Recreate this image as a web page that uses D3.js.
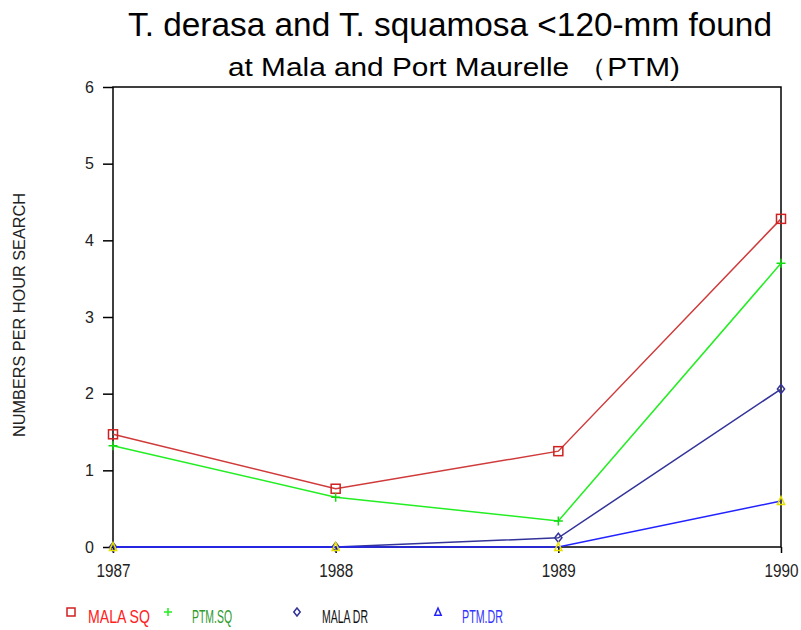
<!DOCTYPE html>
<html>
<head>
<meta charset="utf-8">
<title>T. derasa and T. squamosa</title>
<style>
  body { margin: 0; background: #fff; }
  text { font-family: "Liberation Sans", Arial, sans-serif; }
</style>
</head>
<body>
<script src="https://d3js.org/d3.v7.min.js"></script>
<script>
const years = [1987, 1988, 1989, 1990];
const yTicks = [0, 1, 2, 3, 4, 5, 6];
const malaSq = [1.47, 0.76, 1.25, 4.28];
const ptmSq = [1.32, 0.65, 0.34, 3.70];
const malaDr = [0, 0, 0.12, 2.06];
const ptmDr = [0, 0, 0, 0.60];
const seriesNames = ['MALA SQ', 'PTM.SQ', 'MALA DR', 'PTM.DR'];

const W = 801, H = 630;
const M = {left: 113, right: 20, top: 87, bottom: 83};

const svg = d3.select('body').append('svg')
    .attr('width', W)
    .attr('height', H);

const x = d3.scaleLinear().domain([1987, 1990]).range([M.left, W - M.right]);
const y = d3.scaleLinear().domain([0, 6]).range([H - M.bottom, M.top]);

// squeeze / stretch text to the width seen in the picture
const fit = (sel, w) => sel.attr('textLength', w).attr('lengthAdjust', 'spacingAndGlyphs');

// titles
svg.append('text')
    .attr('x', 128).attr('y', 36)
    .style('font-size', '33px')
    .text('T. derasa and T. squamosa <120-mm found')
    .call(fit, 644);
svg.append('text')
    .attr('x', 228).attr('y', 76)
    .style('font-size', '25px')
    .text('at Mala and Port Maurelle （PTM)')
    .call(fit, 452);

// frame
svg.append('rect')
    .attr('x', x(1987)).attr('y', y(6))
    .attr('width', x(1990) - x(1987))
    .attr('height', y(0) - y(6))
    .attr('fill', 'none')
    .attr('stroke', '#000')
    .attr('stroke-width', 1.5);

// axes
const yAxis = svg.append('g')
    .attr('transform', `translate(${x(1987)},0)`)
    .call(d3.axisLeft(y).tickValues(yTicks).tickSize(10).tickPadding(9).tickFormat(d3.format('d')));
const xAxis = svg.append('g')
    .attr('transform', `translate(0,${y(0)})`)
    .call(d3.axisBottom(x).tickValues(years).tickSize(6).tickPadding(11).tickFormat(d3.format('d')));
[yAxis, xAxis].forEach(a => {
    a.select('.domain').remove();
    a.selectAll('line').attr('stroke', '#000').attr('stroke-width', 1.5);
    a.selectAll('text')
        .style('font-family', '"Liberation Sans", Arial, sans-serif')
        .attr('fill', '#222');
});
yAxis.selectAll('text').style('font-size', '16px');
xAxis.selectAll('text').style('font-size', '18px').call(fit, 34);

svg.append('text')
    .attr('transform', `translate(25,${315}) rotate(-90)`)
    .attr('text-anchor', 'middle')
    .style('font-size', '16px')
    .attr('fill', '#222')
    .text('NUMBERS PER HOUR SEARCH')
    .call(fit, 244);

const series = [
    {name: seriesNames[0], values: malaSq, line: '#d03a3a', mark: '#d02020', text: '#ff2020', shape: 'square'},
    {name: seriesNames[1], values: ptmSq, line: '#22ee22', mark: '#11dd11', text: '#2d9a2d', shape: 'plus'},
    {name: seriesNames[2], values: malaDr, line: '#33339a', mark: '#33339a', text: '#111', shape: 'diamond'},
    {name: seriesNames[3], values: ptmDr, line: '#2222ff', mark: '#e8e000', text: '#3333ff', shape: 'triangle'}
];

const line = d3.line().x((d, i) => x(years[i])).y(d => y(d));

function marker(g, shape, color, size) {
    const s = size;
    if (shape === 'square') {
        g.append('rect').attr('x', -s).attr('y', -s).attr('width', 2 * s).attr('height', 2 * s)
            .attr('fill', 'none').attr('stroke', color).attr('stroke-width', 1.5);
    } else if (shape === 'plus') {
        g.append('path').attr('d', `M${-s},0H${s}M0,${-s}V${s}`)
            .attr('stroke', color).attr('stroke-width', 1.5);
    } else if (shape === 'diamond') {
        g.append('path').attr('d', `M0,${-s}L${s * 0.8},0L0,${s}L${-s * 0.8},0Z`)
            .attr('fill', 'none').attr('stroke', color).attr('stroke-width', 1.5);
    } else {
        g.append('path').attr('d', `M0,${-s}L${s * 0.8},${s * 0.8}L${-s * 0.8},${s * 0.8}Z`)
            .attr('fill', 'none').attr('stroke', color).attr('stroke-width', 1.5);
    }
}

series.forEach(s => {
    svg.append('path')
        .datum(s.values)
        .attr('fill', 'none')
        .attr('stroke', s.line)
        .attr('stroke-width', 1.5)
        .attr('d', line);
    s.values.forEach((v, i) => {
        const g = svg.append('g').attr('transform', `translate(${x(years[i])},${y(v)})`);
        marker(g, s.shape, s.mark, 4.5);
    });
});

// legend
const legendX = [71, 168, 297, 438];
const legendTextX = [88, 192, 322, 462];
const legendTextW = [62, 40, 46, 41];
const legendMarkColor = ['#d02020', '#22ee22', '#33339a', '#2222ff'];
series.forEach((s, i) => {
    const g = svg.append('g').attr('transform', `translate(${legendX[i]},612)`);
    marker(g, s.shape, legendMarkColor[i], 4);
    svg.append('text')
        .attr('x', legendTextX[i]).attr('y', 623)
        .style('font-size', '18px')
        .attr('fill', s.text)
        .text(s.name)
        .call(fit, legendTextW[i]);
});
</script>
</body>
</html>
